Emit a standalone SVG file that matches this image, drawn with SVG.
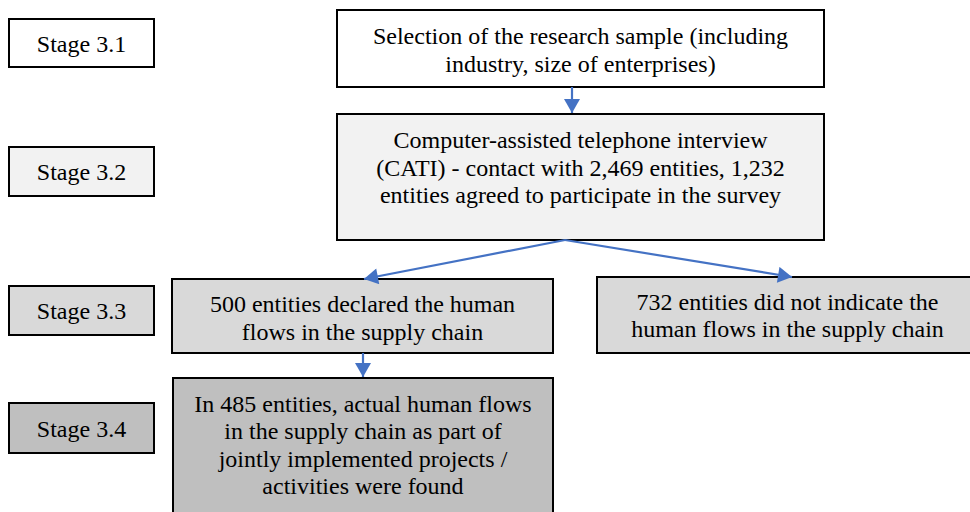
<svg xmlns="http://www.w3.org/2000/svg" width="970" height="512" viewBox="0 0 970 512">
<style>
  .box { stroke: #000; stroke-width: 2; }
  .t { font-family: "Liberation Serif", "Times New Roman", serif; font-size: 24px; fill: #000; text-anchor: middle; }
  .c { stroke: #4472c4; stroke-width: 2.2; fill: none; marker-end: url(#ah); }
  .w { fill: #ffffff; }
  .g1 { fill: #f2f2f2; }
  .g2 { fill: #d9d9d9; }
  .g3 { fill: #bfbfbf; }
</style>
<defs>
  <marker id="ah" markerUnits="userSpaceOnUse" markerWidth="16" markerHeight="16" viewBox="0 0 14 16" refX="14" refY="8" orient="auto">
    <path d="M0,0 L14,8 L0,16 Z" fill="#4472c4"/>
  </marker>
</defs>
<rect width="970" height="512" fill="#ffffff"/>

<g id="stage31">
  <rect class="box w" x="9" y="19" width="145" height="48"/>
  <text class="t" x="81.5" y="51.5">Stage 3.1</text>
</g>
<g id="stage32">
  <rect class="box g1" x="9" y="147" width="145" height="49"/>
  <text class="t" x="81.5" y="180">Stage 3.2</text>
</g>
<g id="stage33">
  <rect class="box g2" x="9" y="286" width="145" height="49"/>
  <text class="t" x="81.5" y="319">Stage 3.3</text>
</g>
<g id="stage34">
  <rect class="box g3" x="9" y="403" width="145" height="50"/>
  <text class="t" x="81.5" y="436.5">Stage 3.4</text>
</g>

<g id="selection">
  <rect class="box w" x="337" y="10" width="487" height="77"/>
  <text class="t" x="580.5" y="44">Selection of the research sample (including</text>
  <text class="t" x="580.5" y="71.5">industry, size of enterprises)</text>
</g>
<g id="cati">
  <rect class="box g1" x="337" y="114" width="487" height="126"/>
  <text class="t" x="580.5" y="148">Computer-assisted telephone interview</text>
  <text class="t" x="580.5" y="175.5">(CATI) - contact with 2,469 entities, 1,232</text>
  <text class="t" x="580.5" y="203">entities agreed to participate in the survey</text>
</g>
<g id="declared">
  <rect class="box g2" x="172" y="279" width="381" height="74"/>
  <text class="t" x="362.5" y="312">500 entities declared the human</text>
  <text class="t" x="362.5" y="339.5">flows in the supply chain</text>
</g>
<g id="notindicated">
  <rect class="box g2" x="597" y="277" width="381" height="76"/>
  <text class="t" x="787.5" y="309.5">732 entities did not indicate the</text>
  <text class="t" x="787.5" y="337">human flows in the supply chain</text>
</g>
<g id="actual">
  <rect class="box g3" x="173" y="378" width="380" height="150"/>
  <text class="t" x="363" y="411.5">In 485 entities, actual human flows</text>
  <text class="t" x="363" y="439">in the supply chain as part of</text>
  <text class="t" x="363" y="466.5">jointly implemented projects /</text>
  <text class="t" x="363" y="494">activities were found</text>
</g>

<g id="connectors">
  <line class="c" x1="572" y1="87" x2="572" y2="113"/>
  <line class="c" x1="565" y1="240" x2="364" y2="279"/>
  <line class="c" x1="565" y1="240" x2="792" y2="277"/>
  <line class="c" x1="363" y1="353" x2="363" y2="377"/>
</g>
</svg>
